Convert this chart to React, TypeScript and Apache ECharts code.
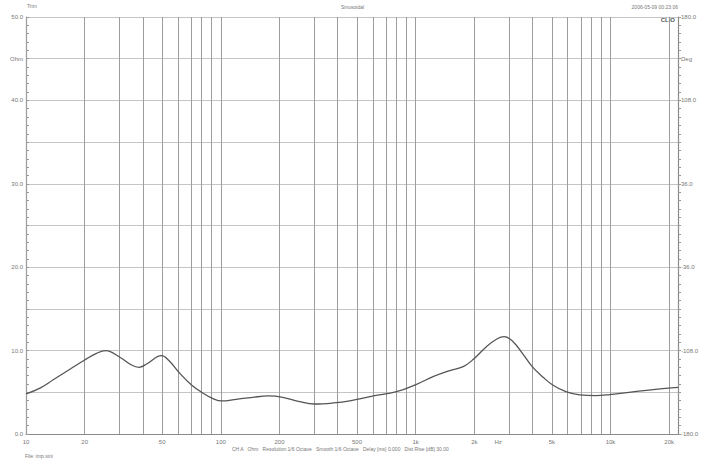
import React, { useEffect, useRef } from "react";
import * as echarts from "echarts";

// Impedance curve (Hz, Ohm)
const freqs = [10, 11.8, 13.8, 16.8, 20, 23, 25.7, 30.3, 34.8, 38.1, 41.6, 49.6, 53.8, 61.6, 70.7, 81.1, 91.3, 101, 120, 146, 175, 208, 254, 303, 377, 459, 607, 797, 1010, 1227, 1498, 1753, 1978, 2307, 2610, 2852, 3162, 3530, 3964, 4510, 5050, 5900, 6950, 8400, 9900, 13000, 17000, 22200];
const ohms = [4.8, 5.5, 6.5, 7.76, 8.87, 9.67, 9.99, 9.2, 8.27, 8.0, 8.39, 9.39, 8.87, 7.27, 5.88, 4.88, 4.23, 3.96, 4.16, 4.4, 4.56, 4.4, 3.87, 3.6, 3.72, 3.97, 4.56, 5.07, 5.96, 6.87, 7.6, 8.07, 8.96, 10.47, 11.39, 11.67, 11.07, 9.67, 8.07, 6.8, 5.88, 5.07, 4.68, 4.6, 4.72, 5.04, 5.36, 5.6];

// Frequency axis
const freqMin = 10;
const freqMax = 22200;
const gridFreqs = [10, 20, 30, 40, 50, 60, 70, 80, 90, 100, 200, 300, 400, 500, 600, 700, 800, 900, 1000, 2000, 3000, 4000, 5000, 6000, 7000, 8000, 9000, 10000, 20000];
const tickFreqs = [10, 20, 50, 100, 200, 500, 1000, 2000, 2650, 5000, 10000, 20000];
const tickLabels = ["10", "20", "50", "100", "200", "500", "1k", "2k", "Hz", "5k", "10k", "20k"];

// Left axis (Ohm) and right axis (Deg)
const ohmMin = 0;
const ohmMax = 50;
const ohmStep = 5;
const ohmLabelValues = [0, 10, 20, 30, 40, 50];
const ohmUnitValue = 45;
const degMin = -180;
const degMax = 180;
const degStep = 36;
const degLabelValues = [-180, -108, -36, 36, 108, 180];
const degUnitValue = 144;

const FONT = "Liberation Sans, Arial, sans-serif";
const TXT = "#777";

export default function App() {
  const ref = useRef<HTMLDivElement>(null);
  useEffect(() => {
    if (!ref.current) return;
    const chart = echarts.init(ref.current, null, { renderer: "svg" });
    const lg = (f: number) => Math.log10(f);
    const data = freqs.map((f, i) => [lg(f), ohms[i]]);
    chart.setOption({
      animation: false,
      backgroundColor: "#ffffff",
      textStyle: { fontFamily: FONT },
      grid: { left: 26, right: 27, top: 17, bottom: 33 },
      xAxis: {
        type: "value",
        min: lg(freqMin),
        max: lg(freqMax),
        axisLine: { show: true, onZero: false, lineStyle: { color: "#8a8a8a", width: 1.2 } },
        axisTick: { show: false },
        splitLine: { show: false },
        axisLabel: {
          customValues: tickFreqs.map(lg),
          fontSize: 6,
          color: TXT,
          margin: 5,
          formatter: (v: number) => {
            let best = 0;
            let bd = Infinity;
            tickFreqs.forEach((f, i) => {
              const d = Math.abs(lg(f) - v);
              if (d < bd) { bd = d; best = i; }
            });
            return tickLabels[best];
          },
        },
      },
      yAxis: [
        {
          type: "value",
          min: ohmMin,
          max: ohmMax,
          interval: ohmStep,
          position: "left",
          axisLine: { show: true, lineStyle: { color: "#8a8a8a", width: 1.2 } },
          axisTick: { show: true, inside: true, length: 3, lineStyle: { color: "#999" } },
          minorTick: { show: true, splitNumber: 5, length: 3, lineStyle: { color: "#999" } },
          splitLine: { show: true, lineStyle: { color: "#c4c4c4", width: 1.2 } },
          axisLabel: {
            fontSize: 6,
            color: TXT,
            margin: 3,
            formatter: (v: number) => {
              const r = Math.round(v);
              if (ohmLabelValues.includes(r)) return r.toFixed(1);
              if (r === ohmUnitValue) return "Ohm";
              return "";
            },
          },
        },
        {
          type: "value",
          min: degMin,
          max: degMax,
          interval: degStep,
          position: "right",
          axisLine: { show: true, lineStyle: { color: "#8a8a8a", width: 1.2 } },
          axisTick: { show: true, inside: false, length: 3, lineStyle: { color: "#999" } },
          minorTick: { show: true, splitNumber: 5, length: 3, lineStyle: { color: "#999" } },
          splitLine: { show: false },
          axisLabel: {
            fontSize: 6,
            color: TXT,
            margin: 3,
            formatter: (v: number) => {
              const r = Math.round(v);
              if (degLabelValues.includes(r)) return r.toFixed(1);
              if (r === degUnitValue) return "Deg";
              return "";
            },
          },
        },
      ],
      series: [
        {
          type: "line",
          yAxisIndex: 0,
          data,
          smooth: 0.4,
          showSymbol: false,
          symbol: "none",
          lineStyle: { color: "#555", width: 1.3 },
          silent: true,
          markLine: {
            silent: true,
            symbol: ["none", "none"],
            label: { show: false },
            lineStyle: { color: "#9c9c9c", width: 1, type: "solid" },
            emphasis: { disabled: true },
            data: gridFreqs.map((f) => ({ xAxis: lg(f) })),
          },
          z: 5,
        },
      ],
      graphic: [
        { type: "text", left: 27, top: 3, style: { text: "Trim", fontSize: 5, fill: TXT, fontFamily: FONT } },
        { type: "text", left: 341, top: 4, style: { text: "Sinusoidal", fontSize: 5, fill: TXT, fontFamily: FONT } },
        { type: "text", right: 27, top: 4, style: { text: "2006-05-09 00:23:06", fontSize: 5, fill: TXT, fontFamily: FONT } },
        { type: "text", right: 30, top: 17, style: { text: "CLIO", fontSize: 6, fontWeight: "bold", fill: "#555", fontFamily: FONT } },
        { type: "text", left: 232, top: 446, style: { text: "CH A   Ohm   Resolution 1/6 Octave   Smooth 1/6 Octave   Delay [ms] 0.000   Dist Rise [dB] 30.00", fontSize: 5, fill: TXT, fontFamily: FONT } },
        { type: "text", left: 25, top: 453, style: { text: "File: imp.sini", fontSize: 5, fill: TXT, fontFamily: FONT } },
      ],
    });
    return () => chart.dispose();
  }, []);
  return <div ref={ref} style={{ position: "fixed", left: 0, top: 0, width: 705, height: 467, background: "#fff" }} />;
}
